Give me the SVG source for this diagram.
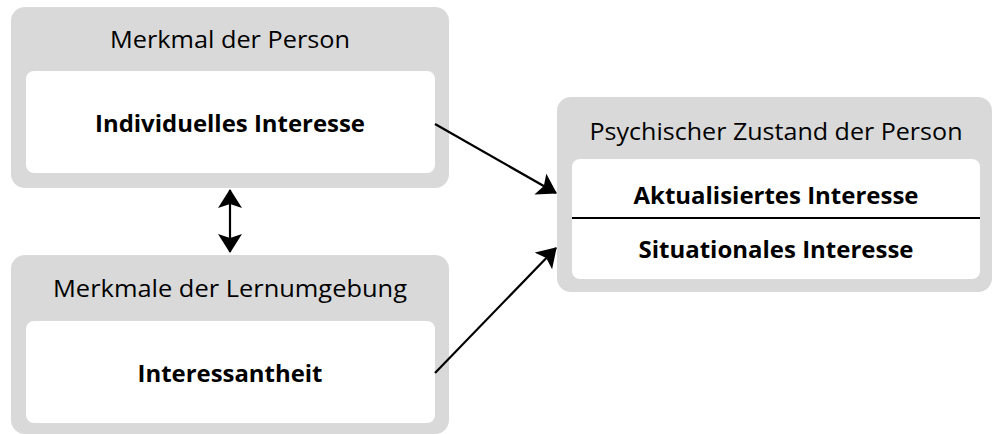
<svg xmlns="http://www.w3.org/2000/svg" width="993" height="434" viewBox="0 0 993 434">
<style>
.outer{fill:#d9d9d9}
.inner{fill:#ffffff}
.title{font-family:"Open Sans","Liberation Sans",sans-serif;font-size:23.5px;fill:#000;text-anchor:middle}
.bold{font-family:"Open Sans","Liberation Sans",sans-serif;font-size:22.5px;font-weight:bold;fill:#000;text-anchor:middle}
.conn{stroke:#000;stroke-width:2.2;fill:none}
</style>
<defs>
<marker id="ah" markerUnits="userSpaceOnUse" markerWidth="20" markerHeight="24" refX="18" refY="12" orient="auto-start-reverse" viewBox="0 0 20 24">
<path d="M0,0 L19,12 L0,24 L4,12 Z" fill="#000"/>
</marker>
</defs>
<rect width="993" height="434" fill="#ffffff"/>
<g id="node-person">
<rect class="outer" x="11" y="7" width="438" height="181" rx="14"/>
<rect class="inner" x="26" y="71" width="409" height="102" rx="8"/>
<text class="title" x="230" y="48" textLength="240" lengthAdjust="spacingAndGlyphs">Merkmal der Person</text>
<text class="bold" x="230" y="132" textLength="270" lengthAdjust="spacingAndGlyphs">Individuelles Interesse</text>
</g>
<g id="node-umgebung">
<rect class="outer" x="11" y="255" width="438" height="179" rx="14"/>
<rect class="inner" x="26" y="321" width="409" height="102" rx="8"/>
<text class="title" x="230" y="297" textLength="354" lengthAdjust="spacingAndGlyphs">Merkmale der Lernumgebung</text>
<text class="bold" x="230" y="382" textLength="185" lengthAdjust="spacingAndGlyphs">Interessantheit</text>
</g>
<g id="node-zustand">
<rect class="outer" x="557" y="97" width="435" height="195" rx="14"/>
<rect class="inner" x="572" y="159" width="408" height="120" rx="8"/>
<text class="title" x="776" y="140" textLength="373" lengthAdjust="spacingAndGlyphs">Psychischer Zustand der Person</text>
<text class="bold" x="776" y="204" textLength="285" lengthAdjust="spacingAndGlyphs">Aktualisiertes Interesse</text>
<line x1="572" y1="218" x2="980" y2="218" stroke="#000" stroke-width="2"/>
<text class="bold" x="776" y="258" textLength="275" lengthAdjust="spacingAndGlyphs">Situationales Interesse</text>
</g>
<g id="connectors">
<line class="conn" x1="230" y1="190" x2="230" y2="252" marker-start="url(#ah)" marker-end="url(#ah)"/>
<line class="conn" x1="435" y1="124" x2="556" y2="193" marker-end="url(#ah)"/>
<line class="conn" x1="435" y1="373" x2="556" y2="248" marker-end="url(#ah)"/>
</g>
</svg>
